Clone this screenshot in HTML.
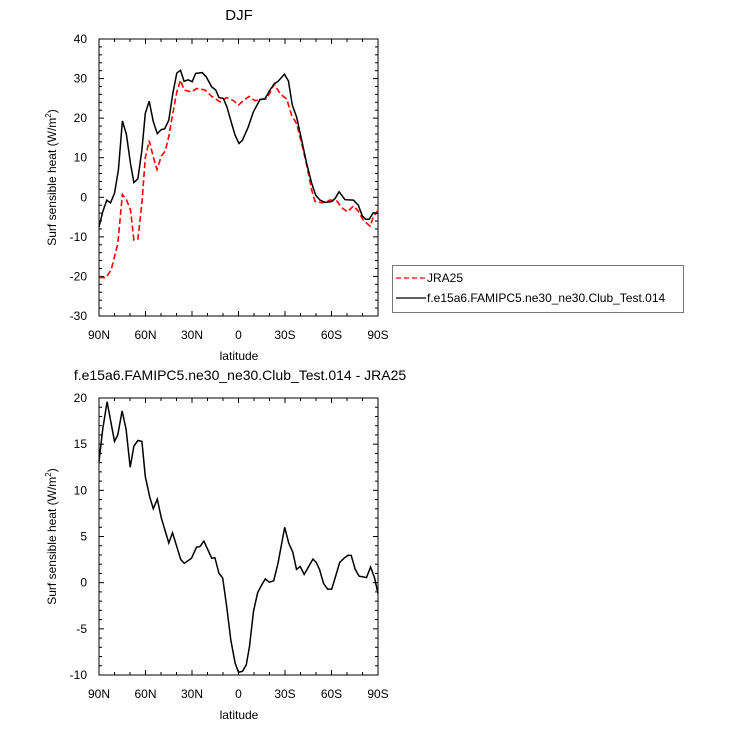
<!DOCTYPE html>
<html><head><meta charset="utf-8"><style>
body{margin:0;background:#fff}
svg{display:block;font-family:"Liberation Sans",sans-serif}
</style></head><body>
<svg id="c" width="729" height="729" viewBox="0 0 729 729" xmlns="http://www.w3.org/2000/svg"></svg>
<script>
const xTickLabels=["90N","60N","30N","0","30S","60S","90S"];
const xTickLats=[90,60,30,0,-30,-60,-90];
const topYTicks=[40,30,20,10,0,-10,-20,-30];
const botYTicks=[20,15,10,5,0,-5,-10];
const modelLat=[90,87.6,85,82.6,80,77.5,74.9,72.3,69.7,67.5,64.9,62.3,60.1,57.6,55,52.4,49.8,47.6,45,42.4,39.8,37.4,35.1,32.5,29.9,27.7,23.4,20.8,17.3,14.7,12.6,9.8,7.4,4.8,2.2,-0.3,-2.5,-6.3,-9.6,-13.9,-17.1,-20.3,-23.1,-25.3,-29.6,-32.2,-34.7,-37.5,-40.8,-44,-47.2,-49.8,-52.6,-55.8,-60.1,-62.3,-64.9,-68.7,-74.1,-77.3,-79.9,-82.1,-84.4,-87,-90];
const modelVal=[-7.5,-3.7,-0.7,-1.4,1.0,6.9,19.3,15.9,8.5,3.7,4.7,11.9,21.2,24.3,19.1,16.1,17.1,17.3,19.5,26.2,31.4,32.1,29.3,29.7,29.2,31.3,31.5,30.4,27.9,27.1,25.2,25.0,22.8,19.1,15.7,13.6,14.4,17.8,21.6,24.7,24.9,27.1,28.7,29.2,31.1,29.4,23.3,20.3,14.4,8.5,3.5,0.5,-0.7,-1.3,-1.1,-0.3,1.4,-0.6,-0.7,-2.0,-4.7,-5.6,-5.5,-3.9,-4.1];
const jraLat=[90,85.5,82.2,77.9,74.9,72.3,69.7,67.5,64.9,62.3,60.1,57.6,55,52.6,49.8,47.2,45,42.4,39.8,37.4,35.1,30.3,27,21.7,17.3,11.9,7.6,3.2,0,-3.1,-6.8,-10.6,-14.5,-18.2,-23.1,-26.8,-31.1,-34.3,-37.5,-40.8,-44,-47.2,-49.4,-54.1,-59.1,-63.3,-66.6,-70.4,-74.1,-76.9,-80.6,-84.9,-87,-90];
const jraVal=[-20.3,-20.3,-18.4,-11.7,0.7,-0.6,-3.2,-10.8,-10.6,-1.5,10.0,14.3,10.2,7.0,10.4,11.7,15.4,21.2,26.6,29.6,27.1,26.6,27.5,27.1,25.5,24.1,25.2,24.4,23.3,24.4,25.5,24.4,24.7,24.9,28.6,26.2,24.8,20.7,18.6,13.6,8.1,1.8,-1.1,-1.4,-0.7,-0.9,-2.6,-3.7,-2.2,-3.3,-5.8,-7.3,-5.0,-3.3];
const diffLat=[90,87.6,84.8,80,77.9,75.1,72.5,69.9,67.5,64.9,62.3,60.1,57.3,55,52.4,49.8,45,42.6,37.2,35,30.3,27,24.9,22.3,19.9,17.3,15.2,12.6,10.2,7.6,5,2.2,0,-2.6,-5,-7.1,-9.7,-12.3,-15.1,-17.3,-19.9,-22.7,-25.5,-29.8,-32.4,-35,-37.4,-39.8,-42.4,-48,-50.2,-52.3,-54.9,-57.5,-60.1,-62.3,-65.3,-68.1,-70.5,-72.7,-75.3,-77.8,-80,-82.6,-85.2,-87.8,-90];
const diffVal=[13.1,16.6,19.6,15.3,16.0,18.6,16.6,12.5,14.8,15.4,15.3,11.5,9.3,8.0,9.05,7.0,4.3,5.4,2.5,2.1,2.65,3.85,3.9,4.5,3.6,2.65,2.7,1.0,0.5,-2.6,-6.2,-8.7,-9.7,-9.6,-8.9,-6.9,-3.1,-1.1,-0.2,0.4,0.05,0.2,2.1,6.0,4.3,3.3,1.45,1.75,0.9,2.55,2.2,1.4,-0.1,-0.7,-0.7,0.5,2.2,2.65,2.95,2.95,1.45,0.7,0.65,0.55,1.7,0.5,-1.2];

const NS="http://www.w3.org/2000/svg";
const svg=document.getElementById('c');
function mk(tag,attrs,parent,text){const e=document.createElementNS(NS,tag);for(const k in attrs)e.setAttribute(k,attrs[k]);if(text!==undefined)e.textContent=text;(parent||svg).appendChild(e);return e;}
const L=99,R=378;
function xs(lat){return L+(90-lat)/180*(R-L);}

function panel(name,T,B,ymin,ymax,yTicks,minorStep){
  const g=mk('g',{}, svg);
  
  
  const ys=v=>B-(v-ymin)/(ymax-ymin)*(B-T);
  mk('rect',{x:L,y:T,width:R-L,height:B-T,fill:'none',stroke:'#000','stroke-width':1},g);
  for(let lat=90;lat>=-90;lat-=10){
    const major=lat%30===0, len=major?5:3, x=xs(lat);
    mk('line',{x1:x,y1:T,x2:x,y2:T+len,stroke:'#000'},g);
    mk('line',{x1:x,y1:B,x2:x,y2:B-len,stroke:'#000'},g);
  }
  xTickLats.forEach((lat,i)=>{
    const t=mk('text',{x:xs(lat),y:B+23,'text-anchor':'middle','font-size':12},g,xTickLabels[i]);
    
    
  });
  for(let v=ymin;v<=ymax+1e-6;v+=minorStep){
    const major=yTicks.includes(Math.round(v*100)/100), len=major?5:3, y=ys(v);
    mk('line',{x1:L,y1:y,x2:L+len,y2:y,stroke:'#000'},g);
    mk('line',{x1:R,y1:y,x2:R-len,y2:y,stroke:'#000'},g);
  }
  yTicks.forEach(v=>{
    const t=mk('text',{x:87,y:ys(v)+4,'text-anchor':'end','font-size':12},g,String(v));
    
    
  });
  const xt=mk('text',{x:239,y:B+44,'text-anchor':'middle','font-size':12},g,'latitude');
  
  
  const cy=(T+B)/2;
  const yt=mk('text',{x:56,y:cy,'text-anchor':'middle','font-size':12,transform:`rotate(-90 56 ${cy})`},g);
  
  
  yt.innerHTML='Surf sensible heat (W/m<tspan font-size="8" dy="-5">2</tspan><tspan dy="5">)</tspan>';
  return ys;
}
function line(lats,vals,ys,attrs,name){
  const p=lats.map((l,i)=>xs(l).toFixed(1)+','+ys(vals[i]).toFixed(1)).join(' ');
  const e=mk('polyline',Object.assign({points:p,fill:'none'},attrs));
  
  
}
const t1=mk('text',{x:239,y:20,'text-anchor':'middle','font-size':15},svg,'DJF');


const ys1=panel('top-panel',39,316,-30,40,topYTicks,2);
line(jraLat,jraVal,ys1,{stroke:'#ff0000','stroke-width':1.6,'stroke-dasharray':'6,3'},'jra25-line');
line(modelLat,modelVal,ys1,{stroke:'#000','stroke-width':1.5},'model-line');
const t2=mk('text',{x:240,y:380,'text-anchor':'middle','font-size':14},svg,'f.e15a6.FAMIPC5.ne30_ne30.Club_Test.014 - JRA25');


const ys2=panel('bottom-panel',398,675,-10,20,botYTicks,1);
line(diffLat,diffVal,ys2,{stroke:'#000','stroke-width':1.5},'difference-line');

const lg=mk('g',{});


mk('rect',{x:392.5,y:265.5,width:291,height:47,fill:'#fff',stroke:'#777'},lg);
mk('line',{x1:396,y1:278,x2:426,y2:278,stroke:'#ff0000','stroke-width':1.3,'stroke-dasharray':'5,3'},lg);
const l1=mk('text',{x:427,y:282,'font-size':12},lg,'JRA25');


mk('line',{x1:396,y1:298,x2:426,y2:298,stroke:'#000','stroke-width':1.3},lg);
const l2=mk('text',{x:427,y:302,'font-size':12},lg,'f.e15a6.FAMIPC5.ne30_ne30.Club_Test.014');


</script>
</body></html>
